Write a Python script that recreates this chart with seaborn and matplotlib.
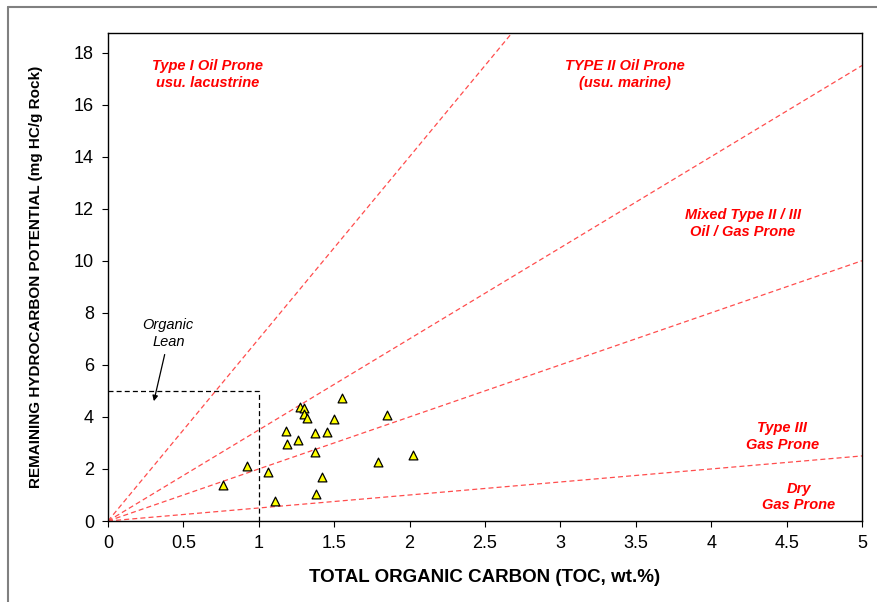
import matplotlib
matplotlib.use("Agg")
import matplotlib.pyplot as plt
import seaborn as sns
import pandas as pd
import numpy as np
from matplotlib.lines import Line2D

# ---- data ----
toc = [1.55, 1.27, 1.30, 1.30, 1.32, 1.50, 1.85, 1.18, 1.37, 1.45, 1.26, 1.19,
       1.37, 1.79, 2.02, 0.92, 1.06, 1.42, 0.76, 1.38, 1.11]
s2 = [4.72, 4.37, 4.35, 4.10, 3.95, 3.91, 4.07, 3.47, 3.38, 3.42, 3.12, 2.94,
      2.65, 2.26, 2.54, 2.12, 1.87, 1.70, 1.37, 1.05, 0.77]
# HI boundary lines (S2/TOC ratio) : 700, 350, 200, 50 mg HC/g TOC
boundary_slopes = [7.0, 3.5, 2.0, 0.5]
x_ticks = [0, 0.5, 1, 1.5, 2, 2.5, 3, 3.5, 4, 4.5, 5]
x_tick_labels = ["0", "0.5", "1", "1.5", "2", "2.5", "3", "3.5", "4", "4.5", "5"]
y_ticks = [0, 2, 4, 6, 8, 10, 12, 14, 16, 18]
zone_labels = ["Type I Oil Prone\nusu. lacustrine",
               "TYPE II Oil Prone\n(usu. marine)",
               "Mixed Type II / III\nOil / Gas Prone",
               "Type III\nGas Prone",
               "Dry\nGas Prone"]
zone_label_pos = [(0.66, 16.56), (3.43, 16.56), (4.21, 10.83), (4.47, 2.67), (4.58, 0.33)]
lean_box = (1.0, 5.0)

df = pd.DataFrame({"TOC": toc, "S2": s2})

sns.set_style("ticks")
narrow = ["Liberation Sans Narrow", "Liberation Sans", "DejaVu Sans"]
plt.rcParams["font.family"] = narrow

fig = plt.figure(figsize=(8.78, 6.02), dpi=100)
ax = fig.add_axes([108/878, 1-521/602, (862-108)/878, (521-33)/602])

xmax, ymax = 5.0, 18.75
xs = np.array([0.0, xmax])
for m in boundary_slopes:
    ax.plot(xs, m * xs, ls=(0, (4, 2.5)), color="#ff4d4d", lw=0.9, zorder=1)

# organic lean box
ax.plot([0, lean_box[0], lean_box[0]], [lean_box[1], lean_box[1], 0],
        ls=(0, (4, 2.5)), color="black", lw=0.9, zorder=1)

sns.scatterplot(data=df, x="TOC", y="S2", marker="^", s=40, color="#ffff00",
                edgecolor="black", linewidth=0.9, ax=ax, zorder=3, legend=False)

ax.set_xlim(0, xmax)
ax.set_ylim(0, ymax)
ax.set_xticks(x_ticks)
ax.set_xticklabels(x_tick_labels)
ax.set_yticks(y_ticks)
ax.tick_params(axis="both", labelsize=13, length=4, width=0.8, colors="black",
               labelcolor="black", pad=6)
for sp in ax.spines.values():
    sp.set_visible(True)
    sp.set_linewidth(1.0)
    sp.set_color("black")

ax.set_xlabel("TOTAL ORGANIC CARBON (TOC, wt.%)", fontsize=13.5, fontweight="bold",
              family=narrow, labelpad=12, color="black")
ax.set_ylabel("REMAINING HYDROCARBON POTENTIAL (mg HC/g Rock)", fontsize=11,
              fontweight="bold", family=["Liberation Sans", "DejaVu Sans"],
              labelpad=22, color="black")

for lab, (lx, ly) in zip(zone_labels, zone_label_pos):
    ax.text(lx, ly, lab, color="#ff0000", fontsize=10.5, fontweight="bold",
            fontstyle="italic", ha="center", va="bottom", linespacing=1.25,
            family=["Liberation Sans", "DejaVu Sans"])

ax.text(0.40, 6.6, "Organic\nLean", color="black", fontsize=10.5,
        fontstyle="italic", ha="center", va="bottom", linespacing=1.25,
        family=["Liberation Sans", "DejaVu Sans"])
ax.annotate("", xy=(0.30, 4.5), xytext=(0.38, 6.5),
            arrowprops=dict(arrowstyle="-|>", color="black", lw=0.9,
                            mutation_scale=8))

# outer frame (top and left)
fig.add_artist(Line2D([8/878, 1.0], [1-7/602, 1-7/602], color="#808080", lw=1.5))
fig.add_artist(Line2D([8/878, 8/878], [0, 1-7/602], color="#808080", lw=1.5))

fig.savefig("out.png", dpi=100)
